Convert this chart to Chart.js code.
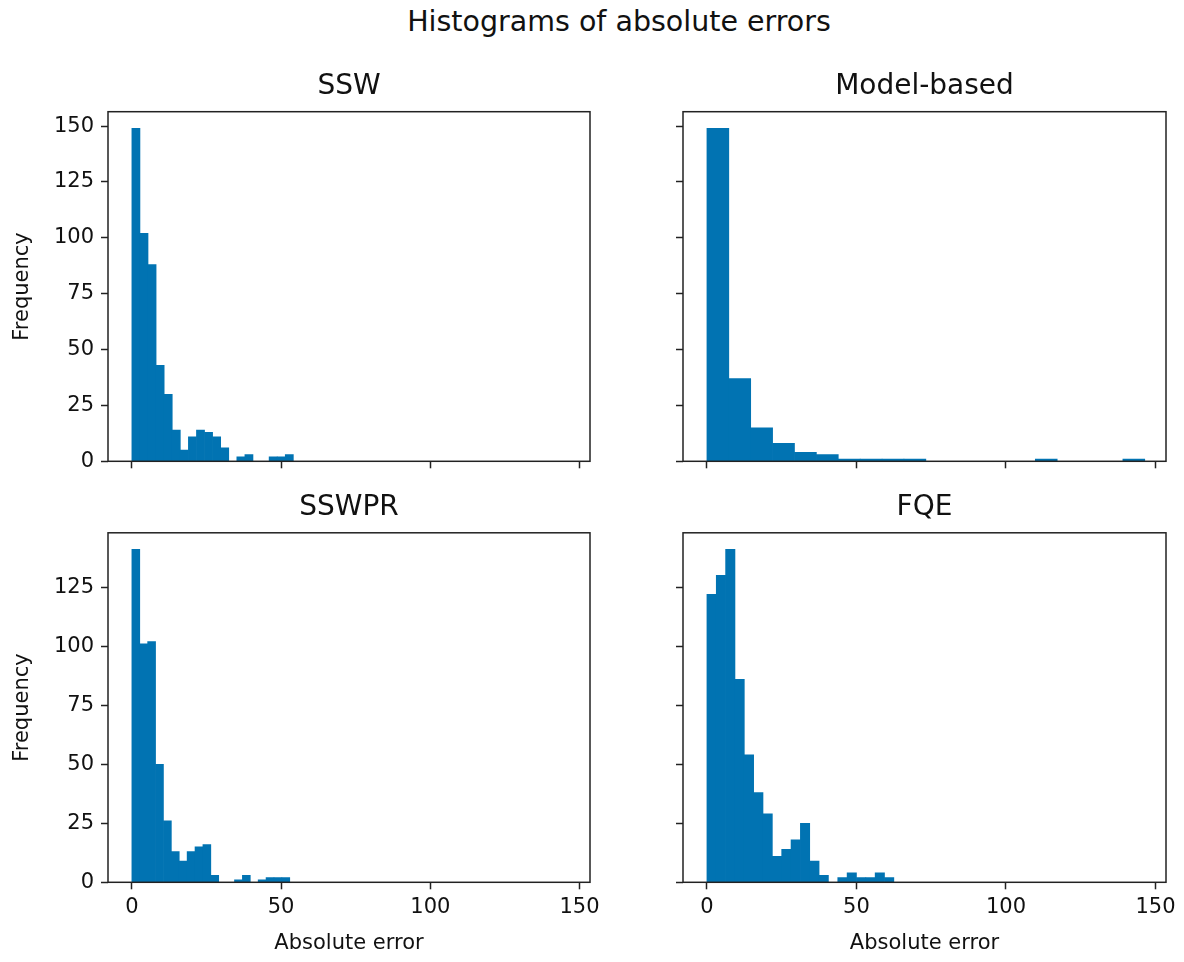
<!DOCTYPE html>
<html>
<head>
<meta charset="utf-8">
<title>Histograms of absolute errors</title>
<script src="https://cdn.jsdelivr.net/npm/chart.js@4.4.0/dist/chart.umd.min.js"></script>
<style>
  body { margin: 0; background: #fff; }
  #fig { position: relative; width: 1184px; height: 962px; background: #fff; overflow: hidden; }
  #fig canvas { position: absolute; }
  #suptitle {
    position: absolute; left: 269px; width: 700px; top: 6px; line-height: 32px;
    text-align: center; font-family: "DejaVu Sans"; font-size: 28.5px; color: #111;
  }
</style>
</head>
<body>
<div id="fig">
  <div id="suptitle">Histograms of absolute errors</div>
  <canvas id="c0" width="630" height="460" style="left:0;top:40px"></canvas>
  <canvas id="c1" width="554" height="460" style="left:630px;top:40px"></canvas>
  <canvas id="c2" width="630" height="472" style="left:0;top:490px"></canvas>
  <canvas id="c3" width="554" height="472" style="left:630px;top:490px"></canvas>
</div>
<script>
/*****
 * Data (20 bins per histogram)
 *****/
const panelTitles = ['SSW', 'Model-based', 'SSWPR', 'FQE'];

const sswCounts   = [149, 102, 88, 43, 30, 14, 5, 11, 14, 13, 11, 6, 0, 2, 3, 0, 0, 2, 2, 3];
const modelCounts = [149, 37, 15, 8, 4, 3, 1, 1, 1, 1, 0, 0, 0, 0, 0, 1, 0, 0, 0, 1];
const sswprCounts = [141, 101, 102, 50, 26, 13, 9, 13, 15, 16, 3, 0, 0, 1, 3, 0, 1, 2, 2, 2];
const fqeCounts   = [122, 130, 141, 86, 54, 38, 29, 11, 14, 18, 25, 9, 3, 0, 2, 4, 2, 2, 4, 2];

// largest absolute error in each panel (right edge of the last bin)
const errorMax = [54.1, 146.4, 52.9, 62.5];

const xTicks = [0, 50, 100, 150];
const yTicksTop = [0, 25, 50, 75, 100, 125, 150];
const yTicksBottom = [0, 25, 50, 75, 100, 125];

const X_MIN = -8, X_MAX = 153.5;
const BAR_COLOR = '#0173b2';
const INK = '#222';
const TICK_FONT = 21;
const TITLE_FONT = 28;

Chart.defaults.font.family = 'DejaVu Sans';
Chart.defaults.color = '#111';

// Full box around the plot area (matplotlib spines) and a title centred over it
const framePlugin = {
  id: 'frame',
  afterDatasetsDraw(chart, args, opts) {
    const { ctx, chartArea: a } = chart;
    ctx.save();
    ctx.strokeStyle = INK;
    ctx.lineWidth = 1.5;
    ctx.strokeRect(a.left, a.top, a.right - a.left, a.bottom - a.top);
    ctx.fillStyle = '#111';
    ctx.font = TITLE_FONT + 'px "DejaVu Sans"';
    ctx.textAlign = 'center';
    ctx.textBaseline = 'middle';
    ctx.fillText(opts.text, (a.left + a.right) / 2, a.top - 25);
    ctx.restore();
  }
};

// Turn counts into histogram bars centred in their bins
function toBins(counts, max) {
  const w = max / counts.length;
  return counts.map((c, i) => ({ x: (i + 0.5) * w, y: c }));
}

function makePanel(id, idx, counts, opts) {
  new Chart(document.getElementById(id), {
    type: 'bar',
    data: {
      datasets: [{
        data: toBins(counts, errorMax[idx]),
        backgroundColor: BAR_COLOR,
        borderWidth: 0,
        barPercentage: 1,
        categoryPercentage: 1
      }]
    },
    options: {
      responsive: false,
      animation: false,
      devicePixelRatio: 1,
      layout: { padding: opts.padding },
      plugins: {
        legend: { display: false },
        tooltip: { enabled: false },
        title: { display: false },
        frame: { text: panelTitles[idx] }
      },
      scales: {
        x: {
          type: 'linear',
          min: X_MIN,
          max: X_MAX,
          offset: false,
          afterBuildTicks: s => { s.ticks = xTicks.map(v => ({ value: v })); },
          afterFit: s => { s.height = opts.xHeight; },
          border: { display: false },
          grid: { offset: false, drawOnChartArea: false, drawTicks: true, tickLength: 7, tickColor: INK, tickWidth: 1.5 },
          ticks: { display: opts.xLabels, padding: 6, font: { size: TICK_FONT }, color: '#111' },
          title: { display: opts.xLabels, text: 'Absolute error', font: { size: TICK_FONT }, color: '#111', padding: { top: 0, bottom: 6 } }
        },
        y: {
          min: 0,
          max: opts.yMax,
          afterBuildTicks: s => { s.ticks = opts.yTicks.map(v => ({ value: v })); },
          afterFit: s => { s.width = opts.yWidth; },
          border: { display: false },
          grid: { drawOnChartArea: false, drawTicks: true, tickLength: 7, tickColor: INK, tickWidth: 1.5 },
          ticks: { display: opts.yLabels, padding: 7, font: { size: TICK_FONT }, color: '#111' },
          title: { display: opts.yLabels, text: 'Frequency', font: { size: TICK_FONT }, color: '#111', padding: { top: 10, bottom: 0 } }
        }
      }
    },
    plugins: [framePlugin]
  });
}

// matplotlib leaves 5% headroom above the tallest bar in each row
const topMax = Math.max(...sswCounts, ...modelCounts) * 1.05;
const bottomMax = Math.max(...sswprCounts, ...fqeCounts) * 1.05;

const leftCol = { yWidth: 108, yLabels: true, right: 40 };
const rightCol = { yWidth: 53, yLabels: false, right: 18 };
const topRow = { yMax: topMax, yTicks: yTicksTop, xHeight: 18.7, xLabels: false, top: 71.7, bottom: 20 };
const bottomRow = { yMax: bottomMax, yTicks: yTicksBottom, xHeight: 79.7, xLabels: true, top: 42.8, bottom: 0 };

function panelOpts(col, row) {
  return { ...col, ...row, padding: { left: 0, right: col.right, top: row.top, bottom: row.bottom } };
}

makePanel('c0', 0, sswCounts, panelOpts(leftCol, topRow));
makePanel('c1', 1, modelCounts, panelOpts(rightCol, topRow));
makePanel('c2', 2, sswprCounts, panelOpts(leftCol, bottomRow));
makePanel('c3', 3, fqeCounts, panelOpts(rightCol, bottomRow));
</script>
</body>
</html>
